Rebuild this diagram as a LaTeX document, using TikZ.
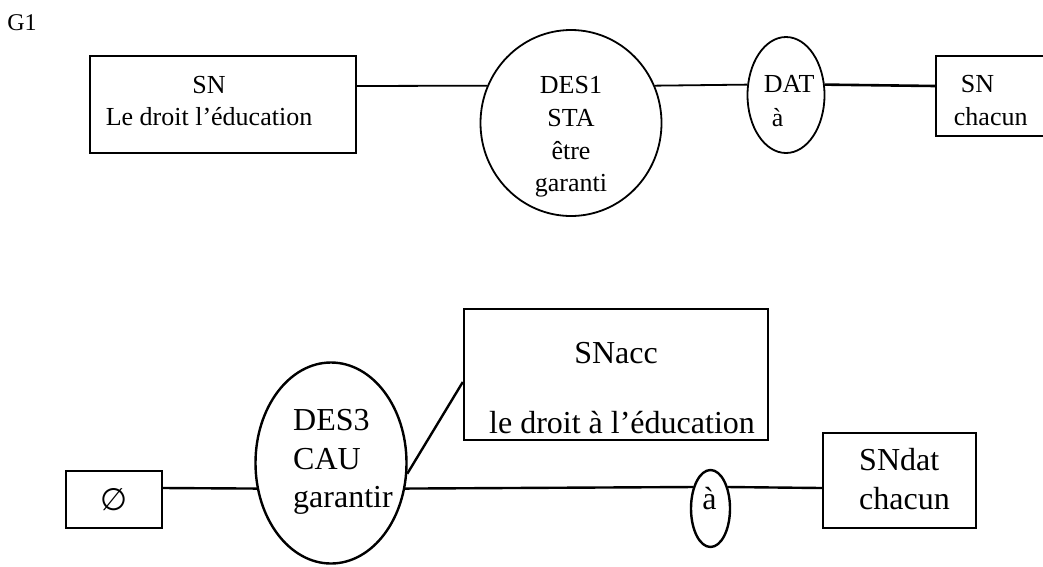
\documentclass[tikz,border=0pt]{standalone}
\usepackage{fontspec}
\setmainfont{Liberation Serif}
\newfontfamily\symfont{DejaVu Sans}
\usetikzlibrary{shapes.geometric}
\begin{document}
\begin{tikzpicture}[x=1pt,y=-1pt,line width=1.8pt,
  box/.style={draw,rectangle,inner sep=0pt},
  oval/.style={draw,ellipse,inner sep=0pt},
  lbl/.style={inner sep=0pt,align=center},
  lbll/.style={inner sep=0pt,align=left,anchor=west},
  small/.style={font=\fontsize{26}{32.7}\selectfont},
  big/.style={font=\fontsize{32}{38.5}\selectfont},
  thick2/.style={line width=2.4pt}]
\clip (0,0) rectangle (1043,566);
\fill[white] (0,0) rectangle (1043,566);
% ---- top graph ----
\node[lbl,font=\fontsize{24}{28}\selectfont] (g1) at (22,23) {G1};
\node[box,minimum width=266pt,minimum height=97pt] (sn1) at (223,104.5) {};
\node[lbl,small] (sn1t) at (209,101) {SN\\Le droit l’éducation};
\node[oval,minimum width=181pt,minimum height=186pt] (des1) at (571,123) {};
\node[lbl,small] (des1t) at (571,137) {DES1\\STA\\être\\garanti};
\node[oval,minimum width=77pt,minimum height=116pt] (dat) at (786,95) {};
\node[lbll,small] (datt) at (763,84) {DAT};
\node[lbll,small] (data) at (771,118) {à};
\node[box,minimum width=112pt,minimum height=80pt] (sn2) at (992,96) {};
\node[lbll,small] (sn2a) at (960,84) {SN};
\node[lbll,small] (sn2b) at (953,117) {chacun};
\draw ([yshift=18.5pt]sn1.east) -- (des1.156);
\draw (des1.24) -- (dat.165);
\draw[line width=2.6pt] (dat.15) -- ([yshift=10pt]sn2.west);
% ---- bottom graph ----
\begin{scope}[thick2]
\node[box,minimum width=96pt,minimum height=57pt,font=\symfont\fontsize{31}{33}\selectfont] (zero) at (114,499.5) {∅};
\node[oval,minimum width=151pt,minimum height=201pt] (des3) at (331,463) {};
\node[lbll,big] (des3t) at (292,462) {DES3\\CAU\\garantir};
\node[box,minimum width=304pt,minimum height=131pt] (snacc) at (616,374.5) {};
\node[lbl,big] (snacca) at (616,353) {SNacc};
\node[lbl,big] (snaccb) at (622,423) {le droit à l’éducation};
\node[oval,minimum width=39pt,minimum height=77pt] (a2) at (710.5,508.5) {};
\node[lbl,big] (a2t) at (709.5,499) {à};
\node[box,minimum width=153pt,minimum height=95pt] (sndat) at (899.5,480.5) {};
\node[lbll,big] (sndatt) at (858,479) {SNdat\\chacun};
\draw ([yshift=11.5pt]zero.east) -- (des3.199);
\draw (des3.352) -- ([yshift=-7.5pt]snacc.west);
\draw (des3.341) -- (a2.129);
\draw (a2.51) -- ([yshift=-7.5pt]sndat.west);
\end{scope}
\end{tikzpicture}
\end{document}
